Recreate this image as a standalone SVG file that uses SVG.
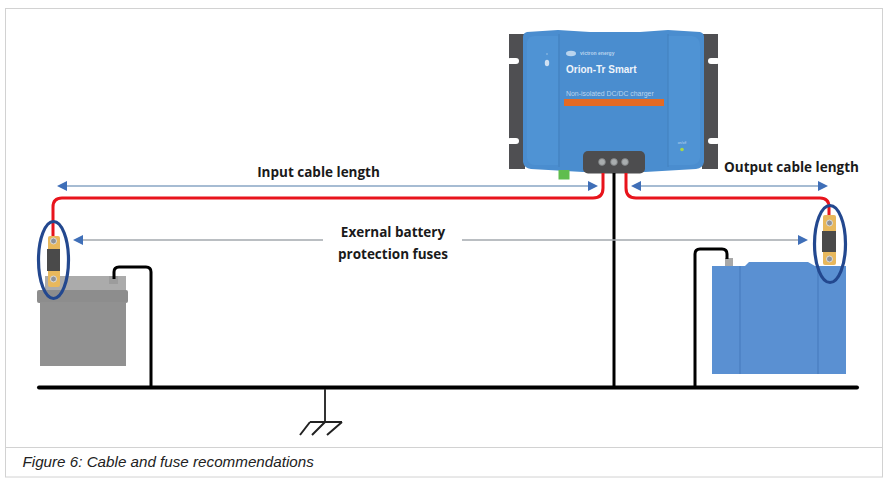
<svg xmlns="http://www.w3.org/2000/svg" width="885" height="485" viewBox="0 0 885 485">
<style>
.lbl{font-family:"Open Sans","Noto Sans",sans-serif;font-weight:700;font-size:13.500px;fill:#1a1a1a;text-anchor:middle}
.red{fill:none;stroke:#e8141c;stroke-width:3}
.blk{fill:none;stroke:#000;stroke-width:3}
.arr{stroke:#4f7ba8;stroke-width:1.2;fill:none}
.arrg{stroke:#a3a8ae;stroke-width:1.4;fill:none}
.head{fill:#3f6fb8}
.oval{fill:none;stroke:#23488f;stroke-width:3.200}
.fuse{fill:#e8b85c}
.bolt{fill:#8f9298;stroke:#dcdcdc;stroke-width:1}
.sil{fill:#b9d4ee;font-family:"Liberation Sans",sans-serif}
.slot{fill:#fff}
.port{fill:#a9adaf;stroke:#7c7f81;stroke-width:.8}
</style>
<rect width="885" height="485" fill="#fff"/>
<g id="frame" fill="none" stroke="#d2d2d2" stroke-width="1">
<rect x="5.500" y="8.500" width="877" height="468.500"/>
<line x1="5.500" y1="447.500" x2="882.500" y2="447.500"/>
</g>
<g id="charger">
<rect x="509" y="34" width="16" height="135" fill="#4f4f52"/>
<rect x="702" y="34" width="16" height="135" fill="#4f4f52"/>
<rect x="507" y="58" width="12" height="6" rx="3" class="slot"/>
<rect x="507" y="138" width="12" height="6" rx="3" class="slot"/>
<rect x="708" y="58" width="12" height="6" rx="3" class="slot"/>
<rect x="708" y="138" width="12" height="6" rx="3" class="slot"/>
<path d="M527 32L558 30L590 32H640L668 30L700 32Q704 33 704 37V162Q703 168 696 169L645 172H583L531 169Q524 168 523 162V37Q523 33 527 32Z" fill="#4a8dcf"/>
<path d="M527 42Q528 36 535 36H558V165H535Q528 165 527 158Z" fill="#4f93d4"/>
<path d="M668 36H692Q700 37 700 46V158Q699 165 690 165H668Z" fill="#4f93d4"/>
<line x1="559" y1="34" x2="559" y2="167" stroke="#4280bd" stroke-width="1"/>
<line x1="668" y1="34" x2="668" y2="167" stroke="#4280bd" stroke-width="1"/>
<circle cx="547" cy="54" r="1" fill="#7fb0de"/>
<ellipse cx="547" cy="63" rx="2.200" ry="3.200" fill="#cfe0f2"/>
<ellipse cx="571" cy="53.500" rx="5" ry="2.800" fill="#b9d4ee"/>
<text x="580" y="55" class="sil" font-size="5" font-weight="700">victron energy</text>
<text x="566" y="73" font-family="'Liberation Sans',sans-serif" font-weight="700" font-size="10" fill="#eef4fb">Orion-Tr Smart</text>
<text x="566" y="96" class="sil" font-size="6.900">Non-isolated DC/DC charger</text>
<rect x="564" y="99" width="100" height="7" fill="#e46a24"/>
<circle cx="682" cy="149.500" r="1.800" fill="#a8d848"/>
<text x="682" y="143.500" class="sil" font-size="3.500" text-anchor="middle">on/off</text>
<rect x="583" y="151" width="62" height="22.500" rx="5" fill="#4d4d4f"/>
<circle cx="602" cy="162" r="3.400" class="port"/>
<circle cx="614" cy="162" r="3.400" class="port"/>
<circle cx="625" cy="162" r="3.400" class="port"/>
<rect x="558.500" y="170" width="11" height="9.500" fill="#5fbd4e"/>
</g>
<g id="left-battery">
<rect x="45" y="276" width="81" height="16" fill="#ababab"/>
<rect x="109" y="276" width="9" height="8" fill="#9c9c9c"/>
<rect x="37" y="290" width="91" height="13" rx="2" fill="#8d8d8d"/>
<rect x="40" y="302" width="86" height="64" fill="#919191"/>
</g>
<g id="right-battery">
<path d="M712 266H745L749 262H808L815 266H846V374H712Z" fill="#5a90d2"/>
<line x1="740" y1="266" x2="740" y2="374" stroke="#4479bb" stroke-width="1"/>
<line x1="818" y1="266" x2="818" y2="374" stroke="#4479bb" stroke-width="1"/>
<rect x="725" y="258" width="8" height="8" fill="#a8a8a8"/>
</g>
<g id="connectors">
<path class="red" d="M603 173V188Q603 198 593 198H62Q53 198 53 207V240"/>
<path class="red" d="M626 173V188Q626 198 636 198H820Q829 198 829 207V222"/>
<path class="blk" d="M614 173V386"/>
<path class="blk" d="M114 279V272Q114 267 119 267H146Q151 267 151 272V386"/>
<path class="blk" d="M695 386V254Q695 249 700 249H722Q727 249 727 254V259"/>
<path d="M39 387.500H857" stroke="#000" stroke-width="4" stroke-linecap="round" fill="none"/>
<path d="M325 389V422" stroke="#333" stroke-width="2" fill="none"/>
<path d="M310 422H342M310 422L300 435M325 422L312 435M342 422L327 435" stroke="#222" stroke-width="2" fill="none"/>
<line class="arr" x1="66" y1="186" x2="590" y2="186"/>
<path class="head" d="M57 186L67 181V191Z"/>
<path class="head" d="M598 186L588 181V191Z"/>
<line class="arr" x1="640" y1="186" x2="820" y2="186"/>
<path class="head" d="M631 186L641 181V191Z"/>
<path class="head" d="M828 186L818 181V191Z"/>
<line class="arrg" x1="82" y1="240" x2="323" y2="240"/>
<path class="head" d="M73 240L83 235V245Z"/>
<line class="arrg" x1="462" y1="240" x2="800" y2="240"/>
<path class="head" d="M808 240L798 235V245Z"/>
</g>
<g id="left-fuse">
<rect x="48" y="236" width="12" height="51" rx="2" class="fuse"/>
<path d="M47 249H60V271H47Z" fill="#4a4a4a"/>
<circle cx="53.500" cy="241" r="3" class="bolt"/>
<circle cx="53.500" cy="279" r="3" class="bolt"/>
<ellipse cx="53.500" cy="260" rx="15" ry="38.500" class="oval"/>
</g>
<g id="right-fuse">
<rect x="823" y="215" width="13" height="50" rx="2" class="fuse"/>
<rect x="822" y="231" width="14" height="21" fill="#4a4a4a"/>
<circle cx="829.500" cy="223" r="3" class="bolt"/>
<circle cx="829.500" cy="259" r="3" class="bolt"/>
<ellipse cx="830" cy="244" rx="15.500" ry="38.500" class="oval"/>
</g>
<g id="labels">
<text x="318.500" y="176.500" class="lbl">Input cable length</text>
<text x="791.500" y="172" class="lbl">Output cable length</text>
<text x="393" y="237" class="lbl">Exernal battery</text>
<text x="393" y="259" class="lbl">protection fuses</text>
<text x="22.500" y="467" font-family="'Liberation Sans',sans-serif" font-style="italic" font-size="15.200" fill="#222">Figure 6: Cable and fuse recommendations</text>
</g>
</svg>
